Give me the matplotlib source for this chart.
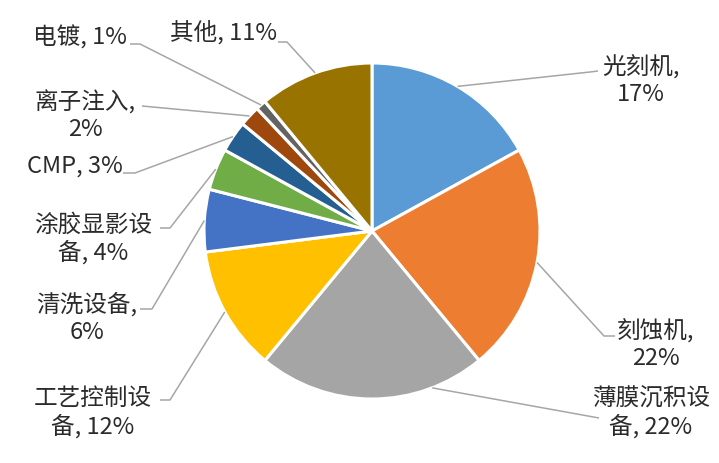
import numpy as np
import matplotlib
matplotlib.use("Agg")
import matplotlib.pyplot as plt

plt.rcParams['font.family'] = ['Noto Sans CJK SC', 'DejaVu Sans']

categories = ['光刻机', '刻蚀机', '薄膜沉积设备', '工艺控制设备', '清洗设备',
              '涂胶显影设备', 'CMP', '离子注入', '电镀', '其他']
shares = [17, 22, 22, 12, 6, 4, 3, 2, 1, 11]
label_texts = ['光刻机,\n17%', '刻蚀机,\n22%', '薄膜沉积设\n备, 22%', '工艺控制设\n备, 12%',
               '清洗设备,\n6%', '涂胶显影设\n备, 4%', 'CMP, 3%', '离子注入,\n2%',
               '电镀, 1%', '其他, 11%']
colors = ['#5B9BD5', '#ED7D31', '#A5A5A5', '#FFC000', '#4472C4',
          '#70AD47', '#255E91', '#9E480E', '#636363', '#997300']

W, H = 719, 463
fig = plt.figure(figsize=(W / 100, H / 100), dpi=100)
ax = fig.add_axes([0, 0, 1, 1])

cx, cy, R = 372, H - 231, 168
wedges, _ = ax.pie(shares, colors=colors, startangle=90, counterclock=False,
                   center=(cx, cy), radius=R, frame=True,
                   wedgeprops=dict(edgecolor='white', linewidth=2.2))
ax.set_xlim(0, W)
ax.set_ylim(0, H)
ax.set_aspect('equal')
ax.axis('off')

# layout: label center (px), elbow points (px, from label side), anchor fraction within wedge
layout = [
    ((641, 81), [(598, 71), (590, 72)], 0.5),
    ((656, 345), [(615, 336), (604, 336)], 0.5),
    ((651, 413), [(599, 418)], 0.235),
    ((93, 413), [(160, 400), (170, 400)], 0.5),
    ((87, 318), [(140, 309), (152, 309)], 0.5),
    ((93, 239), [(160, 228), (170, 228)], 0.5),
    ((75, 166), [(123, 173), (135, 173)], 0.5),
    ((85, 116), [(142, 106)], 0.5),
    ((80, 38), [(130, 44), (140, 44)], 0.5),
    ((223, 32), [(278, 42), (287, 42)], 0.5),
]

for w, txt, (pos, elbow, frac) in zip(wedges, label_texts, layout):
    t1, t2 = w.theta1, w.theta2
    ang = np.deg2rad(t2 - (t2 - t1) * frac)
    ex = cx + R * np.cos(ang)
    ey = cy + R * np.sin(ang)
    pts = [(p[0], H - p[1]) for p in elbow]
    xs = [ex] + [p[0] for p in pts[::-1]]
    ys = [ey] + [p[1] for p in pts[::-1]]
    ax.plot(xs, ys, color='#A6A6A6', lw=1.1, solid_capstyle='butt')
    ax.text(pos[0], H - pos[1], txt, ha='center', va='center', fontsize=17,
            color='#2B2B2B', linespacing=1.2)

fig.savefig('out.png', dpi=100, facecolor='white')
